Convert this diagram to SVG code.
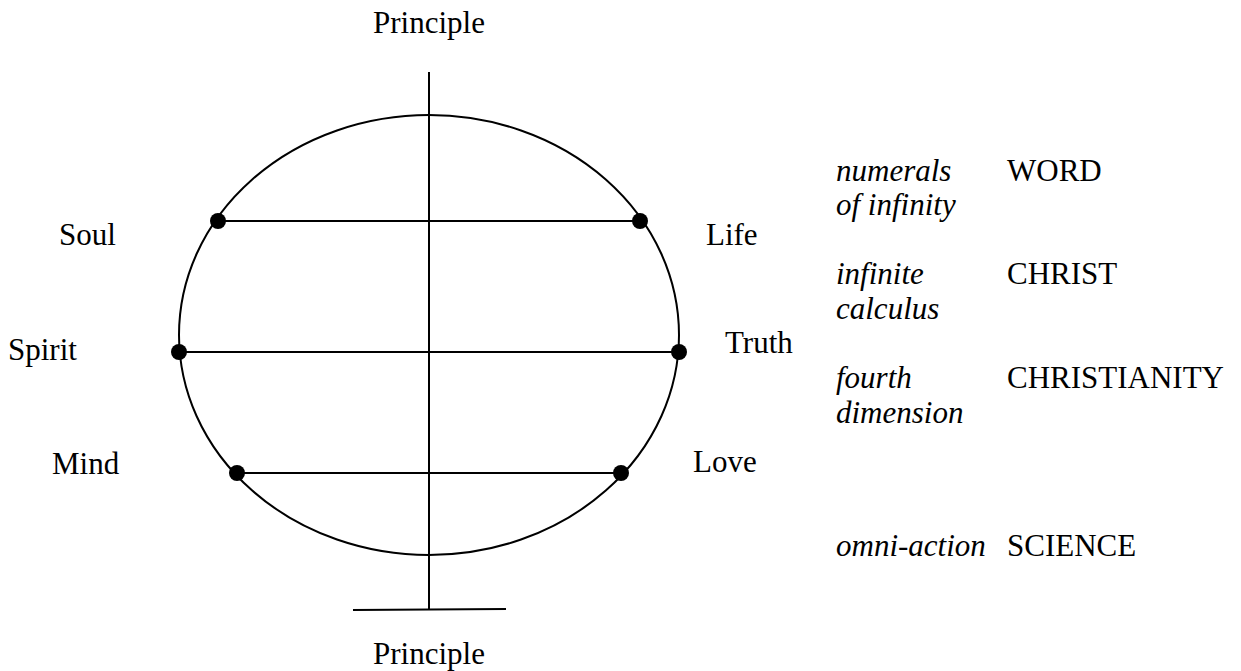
<svg xmlns="http://www.w3.org/2000/svg" width="1241" height="671" viewBox="0 0 1241 671">
<style>
.t{font-family:'Liberation Serif','Times New Roman',Times,serif;font-size:31px;fill:#000}
.i{font-style:italic}
.m{text-anchor:middle}
.ln{stroke:#000;stroke-width:2;fill:none}
.dot{fill:#000}
</style>
<rect width="1241" height="671" fill="#fff"/>
<g id="connectors">
<ellipse class="ln" cx="429" cy="335" rx="250" ry="220"/>
<line class="ln" x1="429" y1="72" x2="429" y2="609"/>
<line class="ln" x1="353" y1="610" x2="506" y2="609"/>
<line class="ln" x1="218" y1="221" x2="640" y2="221"/>
<line class="ln" x1="179" y1="352" x2="679" y2="352"/>
<line class="ln" x1="237" y1="473" x2="621" y2="473"/>
</g>
<g class="t">
<g id="principle-top"><text class="m" x="429" y="33">Principle</text></g>
<g id="principle-bottom"><text class="m" x="429" y="664">Principle</text></g>
<g id="soul"><circle class="dot" cx="218" cy="221" r="8"/><text x="59" y="245">Soul</text></g>
<g id="life"><circle class="dot" cx="640" cy="221" r="8"/><text x="706" y="245">Life</text></g>
<g id="spirit"><circle class="dot" cx="179" cy="352" r="8"/><text x="8" y="360">Spirit</text></g>
<g id="truth"><circle class="dot" cx="679" cy="352" r="8"/><text x="725" y="353">Truth</text></g>
<g id="mind"><circle class="dot" cx="237" cy="473" r="8"/><text x="52" y="474">Mind</text></g>
<g id="love"><circle class="dot" cx="621" cy="473" r="8"/><text x="693" y="472">Love</text></g>
<g id="word"><text class="i" x="836" y="181">numerals</text><text class="i" x="836" y="215">of infinity</text><text x="1007" y="181">WORD</text></g>
<g id="christ"><text class="i" x="836" y="284">infinite</text><text class="i" x="836" y="319">calculus</text><text x="1007" y="284">CHRIST</text></g>
<g id="christianity"><text class="i" x="836" y="388">fourth</text><text class="i" x="836" y="423">dimension</text><text x="1007" y="388">CHRISTIANITY</text></g>
<g id="science"><text class="i" x="836" y="556">omni-action</text><text x="1007" y="556">SCIENCE</text></g>
</g>
</svg>
